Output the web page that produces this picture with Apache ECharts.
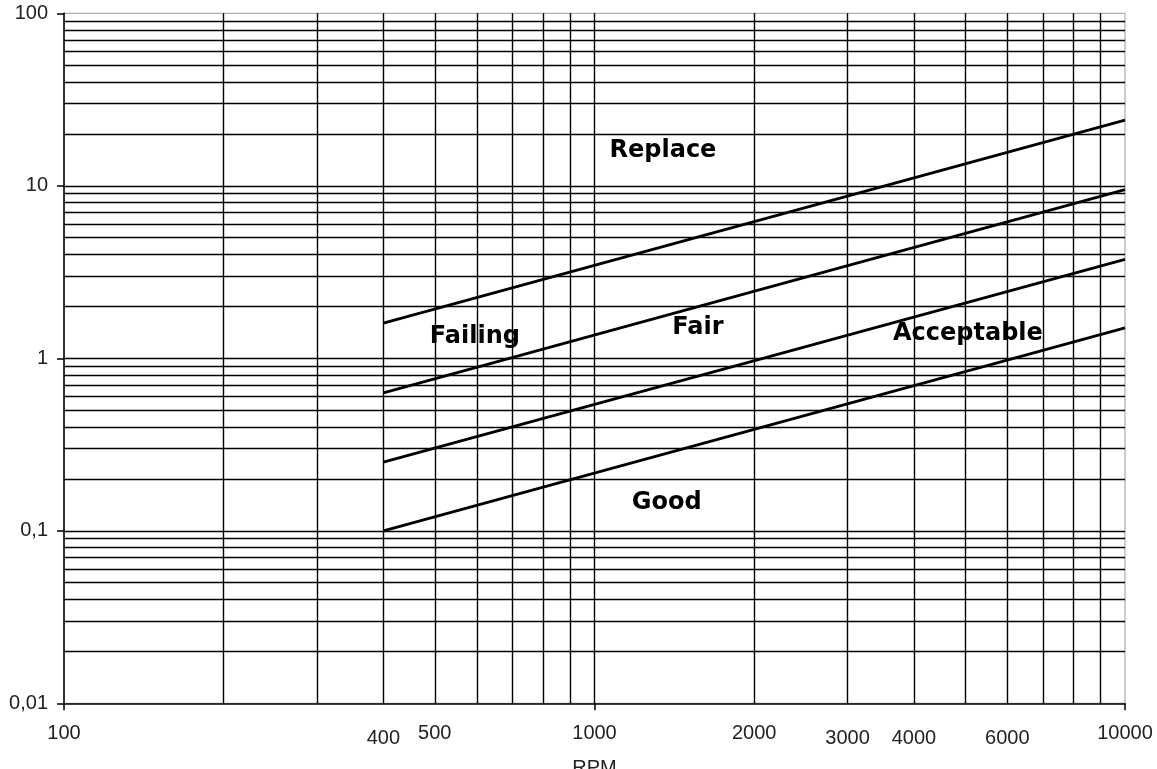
<!DOCTYPE html>
<html><head><meta charset="utf-8">
<script src="https://cdn.jsdelivr.net/npm/echarts@6/dist/echarts.min.js"></script>
<style>html,body{margin:0;padding:0;background:#fff}#c{width:1157px;height:769px}</style>
</head><body><div id="c"></div>
<script>
// ---- data ----
const rpmRange = [400, 10000];
const boundaryGoodAcceptable = [0.1, 1.5];
const boundaryAcceptableFair = [0.25, 3.75];
const boundaryFairFailing = [0.63, 9.5];
const boundaryFailingReplace = [1.6, 24];
const xTickLabels = [100, 400, 500, 1000, 2000, 3000, 4000, 6000, 10000];
const xGridValues = [200, 300, 400, 500, 600, 700, 800, 900, 1000, 2000, 3000, 4000, 5000, 6000, 7000, 8000, 9000];
const yGridValues = [0.02, 0.03, 0.04, 0.05, 0.06, 0.07, 0.08, 0.09, 0.1,
  0.2, 0.3, 0.4, 0.5, 0.6, 0.7, 0.8, 0.9, 1,
  2, 3, 4, 5, 6, 7, 8, 9, 10,
  20, 30, 40, 50, 60, 70, 80, 90];
const zoneNames = ['Replace', 'Failing', 'Fair', 'Acceptable', 'Good'];
const zoneRpm = [1346, 595, 1567, 5058, 1368];
const zoneValue = [16.6, 1.38, 1.56, 1.44, 0.151];

const lowered = [400, 3000, 4000, 6000];
const chart = echarts.init(document.getElementById('c'), null, {renderer: 'canvas'});
const boundaries = [boundaryGoodAcceptable, boundaryAcceptableFair, boundaryFairFailing, boundaryFailingReplace];
const lineStyleBoundary = {color: '#000', width: 2.8};
const series = boundaries.map(b => ({
  type: 'line', symbol: 'none', silent: true,
  data: rpmRange.map((r, i) => [r, b[i]]),
  lineStyle: lineStyleBoundary, z: 5
}));
series.push({
  type: 'line', data: [], silent: true,
  markLine: {
    silent: true, symbol: ['none', 'none'], animation: false,
    label: {show: false},
    lineStyle: {color: '#000', width: 1.4, type: 'solid'},
    data: xGridValues.map(v => ({xAxis: v})).concat(yGridValues.map(v => ({yAxis: v})))
  }
});
series.push({
  type: 'scatter', symbolSize: 0, silent: true, z: 10,
  itemStyle: {opacity: 1},
  data: zoneNames.map((n, i) => ({name: n, value: [zoneRpm[i], zoneValue[i]]})),
  label: {
    show: true, position: 'inside', offset: [0, 3], formatter: p => p.name, opacity: 1,
    fontFamily: 'DejaVu Sans', fontWeight: 'bold', fontSize: 24, color: '#000'
  }
});

chart.setOption({
  animation: false,
  backgroundColor: '#fff',
  grid: {left: 64, right: 32, top: 13.3, bottom: 65.7, show: true, borderColor: '#9a9a9a', borderWidth: 1,
         containLabel: false, outerBoundsMode: 'none'},
  xAxis: {
    type: 'log', logBase: 10, min: 100, max: 10000,
    name: 'RPM', nameLocation: 'middle', nameGap: 55,
    nameTextStyle: {fontFamily: 'Liberation Sans', fontSize: 20, color: '#222'},
    axisLine: {show: true, lineStyle: {color: '#000', width: 1.5}},
    axisTick: {show: true, length: 7, lineStyle: {color: '#000', width: 1.5}},
    splitLine: {show: false},
    axisLabel: {
      customValues: xTickLabels, margin: 20,
      fontFamily: 'Liberation Sans', fontSize: 20, color: '#222',
      formatter: v => lowered.indexOf(Math.round(v)) >= 0 ? '{b|' + Math.round(v) + '}' : '{a|' + Math.round(v) + '}',
      rich: {a: {fontFamily: 'Liberation Sans', fontSize: 20, color: '#222'}, b: {fontFamily: 'Liberation Sans', fontSize: 20, color: '#222', padding: [5, 0, 0, 0]}}
    }
  },
  yAxis: {
    type: 'log', logBase: 10, min: 0.01, max: 100,
    axisLine: {show: true, lineStyle: {color: '#000', width: 1.5}},
    axisTick: {show: true, length: 7, lineStyle: {color: '#000', width: 1.5}},
    splitLine: {show: false},
    axisLabel: {
      margin: 16, fontFamily: 'Liberation Sans', fontSize: 20, color: '#222',
      formatter: v => String(+v.toPrecision(6)).replace('.', ',')
    }
  },
  series: series
});
</script></body></html>
